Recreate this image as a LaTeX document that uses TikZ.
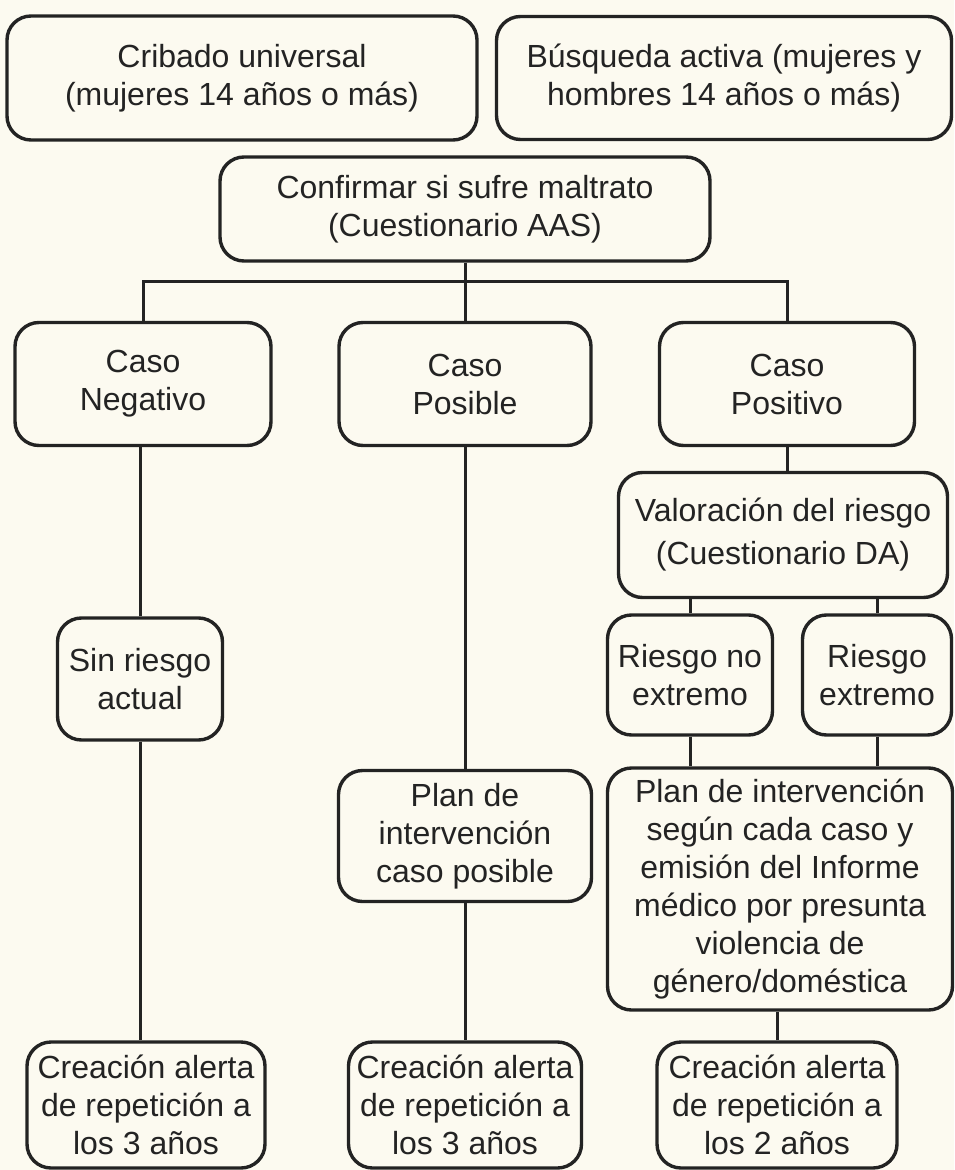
\documentclass[tikz,border=0pt]{standalone}
\usepackage{fontspec}
\setmainfont{Liberation Sans}
\definecolor{fondo}{RGB}{252,250,240}
\definecolor{trazo}{RGB}{35,35,35}
\tikzset{
  box/.style={draw=trazo, line width=1.7pt, rounded corners=12pt, align=center,
    inner sep=2pt, text=trazo, font=\fontsize{16}{19}\selectfont},
  sz/.style 2 args={minimum width=#1*0.5pt, minimum height=#2*0.5pt},
  link/.style={draw=trazo, line width=1.5pt}
}
\begin{document}
\begin{tikzpicture}[x=0.5pt, y=-0.5pt]
  \fill[fondo] (0,0) rectangle (954,1170);
  \useasboundingbox (0,0) rectangle (954,1170);
  \node[box, sz={470}{124}] (crib) at (242,78) {Cribado universal\\(mujeres 14 años o más)};
  \node[box, sz={455}{123}] (busq) at (724,78) {Búsqueda activa (mujeres y\\hombres 14 años o más)};
  \node[box, sz={490}{104}] (conf) at (465,209) {Confirmar si sufre maltrato\\(Cuestionario AAS)};
  \node[box, sz={256}{123}] (neg) at (143,384) {Caso\\Negativo};
  \node[box, sz={252}{123}] (posb) at (465,384) {Caso\\Posible};
  \node[box, sz={255}{123}] (posi) at (787,384) {Caso\\Positivo};
  \node[box, sz={329}{125}, font=\fontsize{16}{21.5}\selectfont] (valor) at (783,535) {Valoración del riesgo\\(Cuestionario DA)};
  \node[box, sz={165}{122}] (sinr) at (140,679) {Sin riesgo\\actual};
  \node[box, sz={165}{120}] (rno) at (690,675) {Riesgo no\\extremo};
  \node[box, sz={149}{120}] (rext) at (877,675) {Riesgo\\extremo};
  \node[box, sz={253}{131}] (plancp) at (465,836) {Plan de\\intervención\\caso posible};
  \node[box, sz={345}{242}] (planbig) at (780,889) {Plan de intervención\\según cada caso y\\emisión del Informe\\médico por presunta\\violencia de\\género/doméstica};
  \foreach \n/\x/\w/\k in {crea1/146/238/3, crea2/465/233/3, crea3/777/240/2} {
    \node[box, sz={\w}{126}] (\n) at (\x,1105) {Creación alerta\\de repetición a\\los \k\ años};
  }
  \coordinate (bar) at (465,282);
  \draw[link] (conf.south) -- (posb.north);
  \draw[link] (neg.north) |- (bar) -| (posi.north);
  \draw[link] (sinr.north) -- (sinr.north |- neg.south);
  \draw[link] (sinr.south) -- (sinr.south |- crea1.north);
  \draw[link] (posb.south) -- (plancp.north);
  \draw[link] (plancp.south) -- (crea2.north);
  \draw[link] (posi.south) -- (posi.south |- valor.north);
  \draw[link] (rno.north) -- (rno.north |- valor.south);
  \draw[link] (rext.north) -- (rext.north |- valor.south);
  \draw[link] (rno.south) -- (rno.south |- planbig.north);
  \draw[link] (rext.south) -- (rext.south |- planbig.north);
  \draw[link] (crea3.north) -- (crea3.north |- planbig.south);
\end{tikzpicture}
\end{document}
